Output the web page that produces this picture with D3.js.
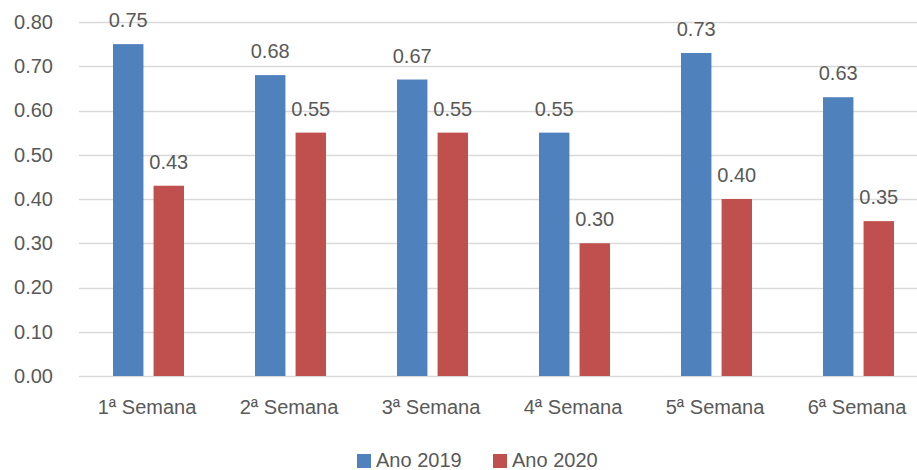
<!DOCTYPE html>
<html>
<head>
<meta charset="utf-8">
<script src="https://cdn.jsdelivr.net/npm/d3@7"></script>
<style>
	body { margin: 0; background: #fff; }
	svg text { font-family: "Liberation Sans", Arial, sans-serif; fill: #595959; }
</style>
</head>
<body>
<script>
var semanas = ['1ª Semana', '2ª Semana', '3ª Semana', '4ª Semana', '5ª Semana', '6ª Semana'];
var anos = ['Ano 2019', 'Ano 2020'];
var valores2019 = [0.75, 0.68, 0.67, 0.55, 0.73, 0.63];
var valores2020 = [0.43, 0.55, 0.55, 0.30, 0.40, 0.35];
var yTicks = [0, 0.1, 0.2, 0.3, 0.4, 0.5, 0.6, 0.7, 0.8];
var cores = ['#4F81BD', '#C0504D'];

var width = 917,
	height = 470;

var svg = d3.select('body').append('svg')
	.attr('width', width)
	.attr('height', height);

// plot area runs a bit past the right edge, like the cropped original
var x = d3.scaleBand()
	.domain(semanas)
	.range([79, 79 + 6 * 142])
	.paddingInner(0)
	.paddingOuter(0);

var xSerie = d3.scaleBand()
	.domain(anos)
	.range([34, 105])
	.paddingInner(0.25);

var y = d3.scaleLinear()
	.domain([0, 0.8])
	.range([376, 22]);

var series = anos.map(function(a, i){
	return {ano: a, cor: cores[i], valores: i == 0 ? valores2019 : valores2020};
});

// gridlines
svg.append('g')
	.selectAll('line')
	.data(yTicks)
	.enter()
	.append('line')
	.attr('x1', 79)
	.attr('x2', width)
	.attr('y1', function(d){ return Math.round(y(d)) + 0.5; })
	.attr('y2', function(d){ return Math.round(y(d)) + 0.5; })
	.attr('stroke', '#D9D9D9')
	.attr('stroke-width', 1.3);

// y axis labels
var yAxis = d3.axisLeft(y)
	.tickValues(yTicks)
	.tickFormat(d3.format('.2f'))
	.tickSize(0)
	.tickPadding(0);

var gy = svg.append('g')
	.attr('transform', 'translate(53,0)')
	.call(yAxis);
gy.select('.domain').remove();
gy.selectAll('text')
	.style('font-size', '20px')
	.style('font-family', '"Liberation Sans", Arial, sans-serif')
	.attr('fill', '#595959');

// x axis labels
var xAxis = d3.axisBottom(x).tickSize(0).tickPadding(0);
var gx = svg.append('g')
	.attr('transform', 'translate(-3,' + 400 + ')')
	.call(xAxis);
gx.select('.domain').remove();
gx.selectAll('text')
	.style('font-size', '20px')
	.style('font-family', '"Liberation Sans", Arial, sans-serif')
	.attr('fill', '#595959');

// bars
var grupos = svg.append('g')
	.selectAll('g')
	.data(series)
	.enter()
	.append('g')
	.attr('fill', function(d){ return d.cor; });

grupos.selectAll('rect')
	.data(function(s){
		return s.valores.map(function(v, i){ return {ano: s.ano, semana: semanas[i], v: v}; });
	})
	.enter()
	.append('rect')
	.attr('x', function(d){ return x(d.semana) + xSerie(d.ano); })
	.attr('width', xSerie.bandwidth())
	.attr('y', function(d){ return y(d.v); })
	.attr('height', function(d){ return y(0) - y(d.v); });

// data labels
grupos.selectAll('text')
	.data(function(s){
		return s.valores.map(function(v, i){ return {ano: s.ano, semana: semanas[i], v: v}; });
	})
	.enter()
	.append('text')
	.attr('x', function(d){ return x(d.semana) + xSerie(d.ano) + xSerie.bandwidth() / 2; })
	.attr('y', function(d){ return y(d.v) - 17; })
	.attr('text-anchor', 'middle')
	.style('font-size', '20px')
	.text(function(d){ return d3.format('.2f')(d.v); });

// legend
var legenda = svg.append('g')
	.selectAll('g')
	.data(series)
	.enter()
	.append('g')
	.attr('transform', function(d, i){ return 'translate(' + (357 + i * 136) + ',454)'; });

legenda.append('rect')
	.attr('width', 14)
	.attr('height', 14)
	.attr('fill', function(d){ return d.cor; });

legenda.append('text')
	.attr('x', 19)
	.attr('y', 13)
	.style('font-size', '20px')
	.text(function(d){ return d.ano; });
</script>
</body>
</html>
